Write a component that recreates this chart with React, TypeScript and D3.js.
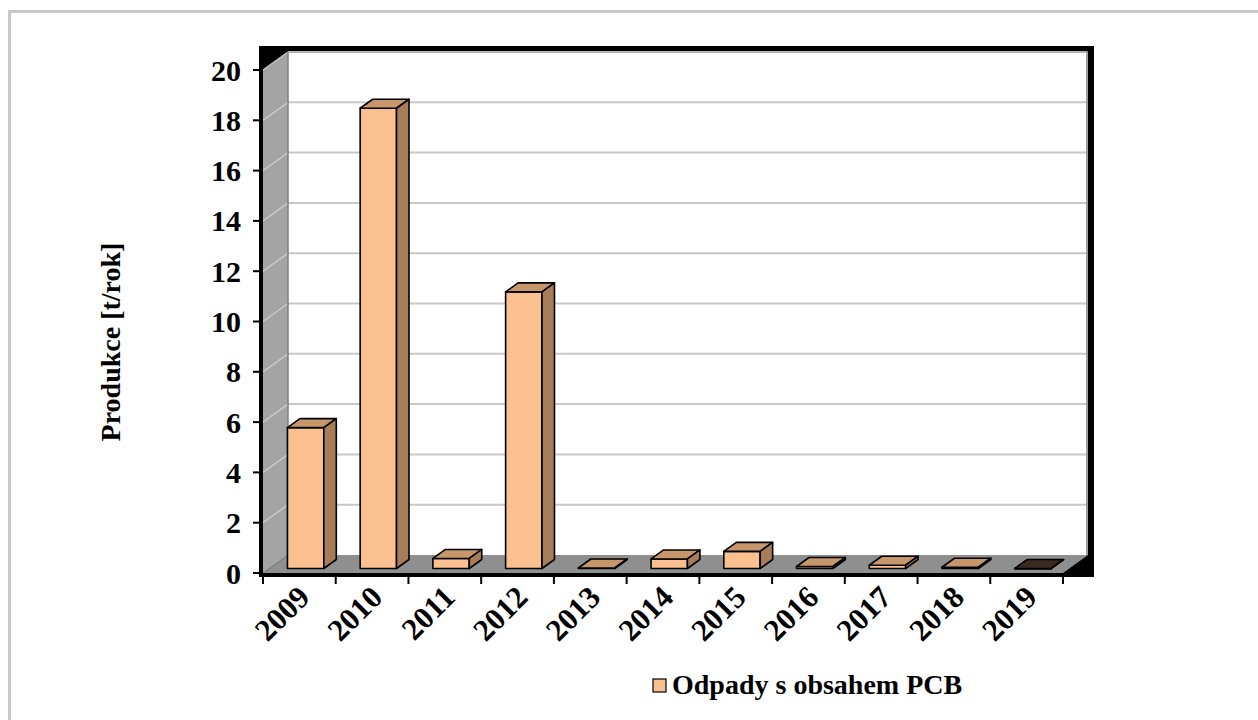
import React from "react";
import * as d3 from "d3";

// Production of PCB-containing waste per year (t/rok)
const years = ["2009", "2010", "2011", "2012", "2013", "2014", "2015", "2016", "2017", "2018", "2019"];
const values = [5.6, 18.3, 0.4, 11.0, 0.02, 0.38, 0.68, 0.08, 0.13, 0.05, 0];
const yTicks = [0, 2, 4, 6, 8, 10, 12, 14, 16, 18, 20];
const seriesName = "Odpady s obsahem PCB";
const yTitle = "Produkce [t/rok]";

const W = 1258;
const H = 720;
const FONT = "'Liberation Serif', 'Times New Roman', serif";

// 3D box geometry: front plane and depth offset
const frontLeft = 263;
const frontRight = 1063;
const DX = 25;
const DY = 18;

const FRONT = "#FAC090";
const TOP = "#C6976B";
const SIDE = "#A67D58";

export default function App() {
  const y = d3.scaleLinear().domain([0, 20]).range([573, 70]);
  const x = d3
    .scaleBand<string>()
    .domain(years)
    .range([frontLeft, frontRight])
    .paddingInner(0.5)
    .paddingOuter(0.25);
  const step = (frontRight - frontLeft) / years.length;

  const bx0 = frontLeft + DX;
  const bx1 = frontRight + DX;
  const by = (v: number) => y(v) - DY;

  // bars sit in the middle half of the depth
  const fdx = DX * 0.25;
  const fdy = DY * 0.25;
  const bdx = DX * 0.5;
  const bdy = DY * 0.5;

  const pts = (arr: number[][]) => arr.map((p) => p.join(",")).join(" ");

  return (
    <svg width={W} height={H} style={{ position: "absolute", left: 0, top: 0, background: "#fff" }}>
      <rect x={9.5} y={11.5} width={1300} height={800} fill="#fff" stroke="#c8c8c8" strokeWidth={3} />

      {/* black frame behind walls */}
      <rect x={259} y={46} width={1094 - 259} height={577 - 46} fill="#000" />
      {/* back wall */}
      <rect x={bx0} y={by(20)} width={bx1 - bx0} height={by(0) - by(20)} fill="#fff" />
      {/* left wall */}
      <polygon
        points={pts([
          [frontLeft, y(0)],
          [frontLeft, y(20)],
          [bx0, by(20)],
          [bx0, by(0)],
        ])}
        fill="#a4a4a4"
      />
      {/* floor */}
      <polygon
        points={pts([
          [frontLeft, y(0)],
          [bx0, by(0)],
          [bx1, by(0)],
          [frontRight, y(0)],
        ])}
        fill="#8f8f8f"
      />

      {/* gridlines */}
      {yTicks.map((t) =>
        t === 0 ? null : (
          <g key={t}>
            <line x1={bx0} x2={bx1 - 1} y1={by(t)} y2={by(t)} stroke="#c8c8c8" strokeWidth={2} />
            <line x1={frontLeft} x2={bx0} y1={y(t)} y2={by(t)} stroke="#c8c8c8" strokeWidth={1.5} />
          </g>
        )
      )}
      <line x1={bx0} x2={bx0} y1={by(20)} y2={by(0)} stroke="#808080" strokeWidth={1.5} />
      <line x1={bx1 - 1} x2={bx1 - 1} y1={by(20)} y2={by(0)} stroke="#808080" strokeWidth={1.5} />
      <line x1={bx0} x2={bx1} y1={by(20)} y2={by(20)} stroke="#a0a0a0" strokeWidth={1} />

      {/* bars */}
      {years.map((yr, i) => {
        const v = values[i];
        const l = (x(yr) as number) + fdx;
        const r = l + x.bandwidth();
        const b = y(0) - fdy;
        const t = y(v) - fdy;
        const dark = v === 0;
        return (
          <g key={yr} stroke="#000" strokeWidth={1.6} strokeLinejoin="round">
            <rect x={l} y={t} width={r - l} height={Math.max(b - t, 0.5)} fill={FRONT} />
            <polygon
              points={pts([
                [l, t],
                [l + bdx, t - bdy],
                [r + bdx, t - bdy],
                [r, t],
              ])}
              fill={dark ? "#3a2a1f" : TOP}
            />
            <polygon
              points={pts([
                [r, t],
                [r + bdx, t - bdy],
                [r + bdx, b - bdy],
                [r, b],
              ])}
              fill={SIDE}
            />
          </g>
        );
      })}

      {/* y axis ticks & labels */}
      {yTicks.map((t) => (
        <g key={"yt" + t}>
          <line x1={253} x2={259} y1={y(t)} y2={y(t)} stroke="#000" strokeWidth={2} />
          <text
            x={241}
            y={y(t)}
            dy="0.35em"
            textAnchor="end"
            fontFamily={FONT}
            fontWeight="bold"
            fontSize={30}
          >
            {t}
          </text>
        </g>
      ))}

      {/* x axis ticks */}
      {d3.range(years.length + 1).map((i) => (
        <line
          key={"xt" + i}
          x1={frontLeft + i * step}
          x2={frontLeft + i * step}
          y1={577}
          y2={584}
          stroke="#000"
          strokeWidth={2}
        />
      ))}
      {years.map((yr) => {
        const cx = (x(yr) as number) + x.bandwidth() / 2;
        return (
          <text
            key={"xl" + yr}
            transform={`translate(${cx + 12},${599}) rotate(-45)`}
            textAnchor="end"
            fontFamily={FONT}
            fontWeight="bold"
            fontSize={31}
          >
            {yr}
          </text>
        );
      })}

      {/* y title */}
      <text
        transform="translate(120,342) rotate(-90)"
        textAnchor="middle"
        fontFamily={FONT}
        fontWeight="bold"
        fontSize={28}
      >
        {yTitle}
      </text>

      {/* legend */}
      <rect x={653} y={679} width={13} height={13} fill={FRONT} stroke="#000" strokeWidth={1.2} />
      <text x={672} y={694} fontFamily={FONT} fontWeight="bold" fontSize={28}>
        {seriesName}
      </text>
    </svg>
  );
}
